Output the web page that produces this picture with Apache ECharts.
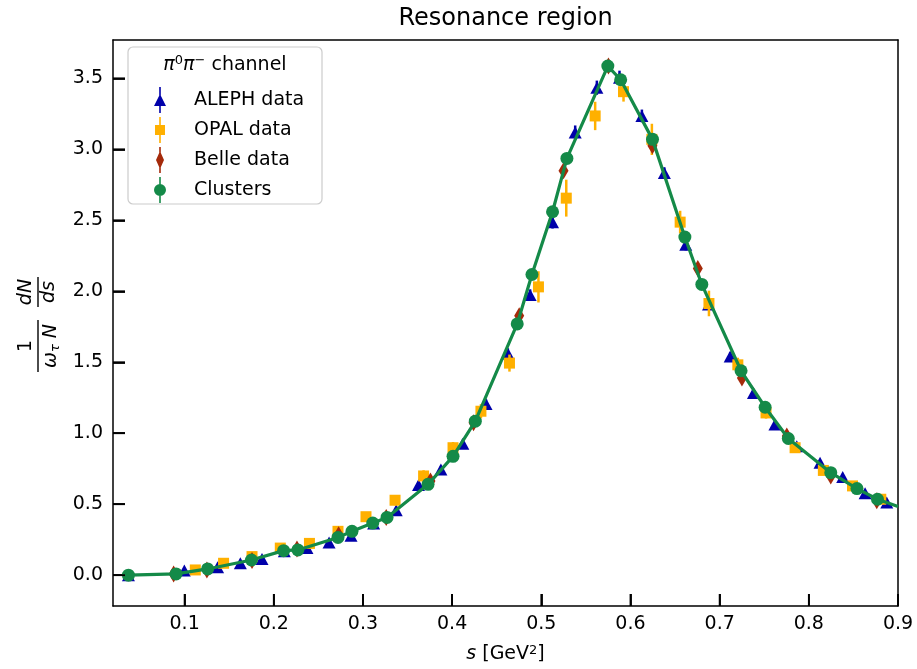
<!DOCTYPE html>
<html>
<head>
<meta charset="utf-8">
<script src="https://cdn.jsdelivr.net/npm/echarts@6/dist/echarts.min.js"></script>
<style>
  html, body { margin: 0; padding: 0; background: #fff; }
  #chart { width: 917px; height: 669px; }
</style>
</head>
<body>
<div id="chart"></div>
<script>
const FONT = 'DejaVu Sans'

// ALEPH
const alephS = [0.037, 0.0997, 0.137, 0.1625, 0.1868, 0.2118, 0.2372, 0.262, 0.2866, 0.312, 0.3373, 0.3623, 0.3874, 0.412, 0.438, 0.4625, 0.4875, 0.5126, 0.538, 0.5623, 0.5877, 0.6128, 0.638, 0.662, 0.6875, 0.7118, 0.7379, 0.762, 0.7865, 0.8126, 0.838, 0.8631, 0.8874]
const alephV = [0.0, 0.033, 0.056, 0.084, 0.114, 0.168, 0.191, 0.231, 0.278, 0.365, 0.458, 0.636, 0.745, 0.926, 1.206, 1.562, 1.973, 2.487, 3.118, 3.434, 3.504, 3.235, 2.833, 2.328, 1.907, 1.541, 1.283, 1.061, 0.909, 0.792, 0.692, 0.577, 0.512]
const alephErr = [0.005, 0.005, 0.006, 0.007, 0.008, 0.01, 0.01, 0.012, 0.014, 0.017, 0.02, 0.024, 0.026, 0.03, 0.032, 0.036, 0.04, 0.045, 0.05, 0.05, 0.05, 0.045, 0.04, 0.04, 0.035, 0.03, 0.026, 0.022, 0.02, 0.018, 0.016, 0.015, 0.015]

// OPAL
const opalS = [0.112, 0.1437, 0.1756, 0.2073, 0.24, 0.272, 0.3034, 0.336, 0.368, 0.401, 0.4323, 0.4643, 0.4968, 0.528, 0.5604, 0.5922, 0.624, 0.6557, 0.688, 0.7204, 0.752, 0.7846, 0.8163, 0.849, 0.8807]
const opalV = [0.037, 0.084, 0.131, 0.191, 0.224, 0.309, 0.412, 0.528, 0.699, 0.898, 1.155, 1.494, 2.031, 2.656, 3.235, 3.406, 3.07, 2.487, 1.914, 1.482, 1.143, 0.898, 0.738, 0.629, 0.535]
const opalErr = [0.015, 0.015, 0.02, 0.02, 0.02, 0.025, 0.03, 0.035, 0.04, 0.04, 0.05, 0.06, 0.11, 0.13, 0.1, 0.07, 0.11, 0.08, 0.09, 0.05, 0.04, 0.03, 0.03, 0.025, 0.025]

// Belle
const belleS = [0.0877, 0.125, 0.1756, 0.226, 0.2727, 0.3261, 0.3757, 0.424, 0.4752, 0.5249, 0.5753, 0.6246, 0.6755, 0.725, 0.7753, 0.8246, 0.8762]
const belleV = [0.009, 0.037, 0.103, 0.184, 0.285, 0.407, 0.664, 1.073, 1.828, 2.849, 3.586, 3.025, 2.16, 1.389, 0.98, 0.699, 0.524]
const belleErr = [0.01, 0.01, 0.01, 0.01, 0.015, 0.015, 0.02, 0.025, 0.03, 0.04, 0.04, 0.04, 0.035, 0.03, 0.02, 0.02, 0.02]

// Clusters
const clusterS = [0.037, 0.0904, 0.1258, 0.175, 0.211, 0.227, 0.272, 0.2877, 0.311, 0.327, 0.373, 0.401, 0.426, 0.473, 0.4895, 0.5126, 0.5287, 0.5746, 0.589, 0.6247, 0.661, 0.680, 0.724, 0.751, 0.777, 0.8246, 0.854, 0.877]
const clusterV = [0.0, 0.009, 0.044, 0.107, 0.173, 0.178, 0.266, 0.309, 0.367, 0.407, 0.64, 0.837, 1.085, 1.77, 2.118, 2.56, 2.936, 3.586, 3.49, 3.07, 2.382, 2.048, 1.44, 1.183, 0.963, 0.722, 0.61, 0.535]
const clusterErr = [0.005, 0.005, 0.006, 0.008, 0.01, 0.01, 0.012, 0.012, 0.014, 0.015, 0.02, 0.02, 0.025, 0.03, 0.03, 0.035, 0.035, 0.04, 0.04, 0.035, 0.03, 0.03, 0.025, 0.02, 0.02, 0.015, 0.015, 0.015]

// green curve: cluster points, running on to the right frame
const curveEndS = 0.9
const curveEndV = 0.484

const xTicks = [0.1, 0.2, 0.3, 0.4, 0.5, 0.6, 0.7, 0.8, 0.9]
const yTicks = [0.0, 0.5, 1.0, 1.5, 2.0, 2.5, 3.0, 3.5]

const X_MIN = 0.0197
const X_MAX = 0.9
const Y_MIN = -0.217
const Y_MAX = 3.77

const BLUE = '#0000aa'
const ORANGE = '#ffb000'
const RED = '#a52a0a'
const GREEN = '#148a48'

const pairs = (s, v) => s.map((x, i) => [x, v[i]])

const errorBars = (name, s, v, e, color, z) => ({
  type: 'custom',
  name,
  z,
  silent: true,
  clip: true,
  data: s.map((x, i) => [x, v[i] - e[i], v[i] + e[i]]),
  encode: { x: 0, y: [1, 2] },
  renderItem: (params, api) => {
    const lo = api.coord([api.value(0), api.value(1)])
    const hi = api.coord([api.value(0), api.value(2)])
    return {
      type: 'line',
      shape: { x1: lo[0], y1: lo[1], x2: hi[0], y2: hi[1] },
      style: { stroke: color, lineWidth: 2.5 }
    }
  }
})

const markers = (name, s, v, symbol, size, color, z) => ({
  type: 'scatter',
  name,
  z,
  symbol,
  symbolSize: size,
  itemStyle: { color, opacity: 1 },
  data: pairs(s, v)
})

// inward ticks, placed by the axis scale; dx/dy is the tick direction
const tickMarks = (name, points, dx, dy) => ({
  type: 'custom',
  name,
  z: 12,
  silent: true,
  clip: false,
  data: points,
  encode: { x: 0, y: 1 },
  renderItem: (params, api) => {
    const p = api.coord([api.value(0), api.value(1)])
    return {
      type: 'line',
      shape: { x1: p[0], y1: p[1], x2: p[0] + dx * 12, y2: p[1] + dy * 12 },
      style: { stroke: '#000', lineWidth: 1.8 }
    }
  }
})

const bar = 'M5.2,0h1.6v26h-1.6Z '
const legendIcons = {
  aleph: 'path://' + bar + 'M0,19L6,7L12,19Z',
  opal: 'path://' + bar + 'M1,8h10v10h-10Z',
  belle: 'path://' + bar + 'M6,4L10,13L6,22L2,13Z',
  clusters: 'path://' + bar + 'M0,13a6,6 0 1,1 12,0a6,6 0 1,1 -12,0Z'
}

const frameLine = { show: true, onZero: false, lineStyle: { color: '#000', width: 1.5 } }

const tickStyle = (values) => ({
  show: true, inside: true, length: 12, lineStyle: { color: '#000', width: 1.8 }, customValues: values
})

const labelStyle = (values, margin) => ({
  customValues: values, showMaxLabel: true, showMinLabel: true,
  formatter: v => v.toFixed(1), fontSize: 19, color: '#000', fontFamily: FONT, margin
})

// top / right spines only
const spine = (position, min, max) => ({
  type: 'value', position, min, max,
  axisLine: frameLine,
  axisTick: { show: false },
  axisLabel: { show: false },
  splitLine: { show: false }
})

const chart = echarts.init(document.getElementById('chart'), null, { renderer: 'canvas' })

const option = {
  backgroundColor: '#fff',
  animation: false,
  textStyle: { fontFamily: FONT },
  grid: { left: 113, top: 40, right: 19, bottom: 60 },
  xAxis: [
    {
      type: 'value',
      position: 'bottom',
      min: X_MIN,
      max: X_MAX,
      axisLine: frameLine,
      splitLine: { show: false },
      axisTick: tickStyle(xTicks),
      axisLabel: labelStyle(xTicks, 9),
      name: '{it|s} [GeV{sup|2}]',
      nameLocation: 'middle',
      nameGap: 38,
      nameTextStyle: {
        fontSize: 19, color: '#000', fontFamily: FONT,
        rich: {
          it: { fontSize: 19, fontStyle: 'italic', fontFamily: FONT, color: '#000' },
          sup: { fontSize: 13, fontFamily: FONT, color: '#000', verticalAlign: 'top', padding: [0, 0, 8, 0] }
        }
      }
    },
    spine('top', X_MIN, X_MAX)
  ],
  yAxis: [
    {
      type: 'value',
      position: 'left',
      min: Y_MIN,
      max: Y_MAX,
      axisLine: frameLine,
      splitLine: { show: false },
      axisTick: tickStyle(yTicks),
      axisLabel: labelStyle(yTicks, 10)
    },
    spine('right', Y_MIN, Y_MAX)
  ],
  legend: {
    orient: 'vertical',
    left: 149,
    top: 82,
    z: 21,
    itemWidth: 12,
    itemHeight: 26,
    itemGap: 4,
    symbolKeepAspect: true,
    selectedMode: false,
    textStyle: { fontSize: 19, color: '#000', fontFamily: FONT, padding: [0, 0, 0, 23] },
    data: [
      { name: 'ALEPH data', icon: legendIcons.aleph, itemStyle: { color: BLUE } },
      { name: 'OPAL data', icon: legendIcons.opal, itemStyle: { color: ORANGE } },
      { name: 'Belle data', icon: legendIcons.belle, itemStyle: { color: RED } },
      { name: 'Clusters', icon: legendIcons.clusters, itemStyle: { color: GREEN } }
    ]
  },
  graphic: [
    {
      type: 'text', x: 505.5, y: 19, z: 30,
      style: { text: 'Resonance region', fontSize: 24, fontFamily: FONT, fill: '#000', align: 'center', verticalAlign: 'middle' }
    },
    {
      type: 'rect', z: 20,
      shape: { x: 128, y: 47, width: 194, height: 157, r: 5 },
      style: { fill: 'rgba(255,255,255,0.8)', stroke: '#cccccc', lineWidth: 1.2 }
    },
    {
      type: 'text', x: 225, y: 65, z: 22,
      style: {
        text: '{it|π}{sup|0}{it|π}{sup|−} channel',
        fontSize: 19, fontFamily: FONT, fill: '#000', align: 'center', verticalAlign: 'middle',
        rich: {
          it: { fontSize: 19, fontStyle: 'italic', fontFamily: FONT, fill: '#000' },
          sup: { fontSize: 13, fontFamily: FONT, fill: '#000', verticalAlign: 'top', padding: [0, 0, 8, 0] }
        }
      }
    },
    {
      type: 'group', x: 38, y: 324, rotation: Math.PI / 2, z: 30,
      children: [
        { type: 'line', shape: { x1: -48, y1: 0, x2: 4, y2: 0 }, style: { stroke: '#000', lineWidth: 1.4 } },
        {
          type: 'text', x: -22, y: -2,
          style: { text: '1', fontSize: 19, fontFamily: FONT, fill: '#000', align: 'center', verticalAlign: 'bottom' }
        },
        {
          type: 'text', x: -22, y: 2,
          style: {
            text: '{it|ω}{sub|τ}{it| N}', fontSize: 19, fontFamily: FONT, fill: '#000', align: 'center', verticalAlign: 'top',
            rich: {
              it: { fontSize: 19, fontStyle: 'italic', fontFamily: FONT, fill: '#000', lineHeight: 22 },
              sub: { fontSize: 13, fontStyle: 'italic', fontFamily: FONT, fill: '#000', verticalAlign: 'bottom', padding: [6, 0, 0, 0] }
            }
          }
        },
        { type: 'line', shape: { x1: 17, y1: 0, x2: 47, y2: 0 }, style: { stroke: '#000', lineWidth: 1.4 } },
        {
          type: 'text', x: 32, y: -2,
          style: { text: 'dN', fontSize: 19, fontStyle: 'italic', fontFamily: FONT, fill: '#000', align: 'center', verticalAlign: 'bottom' }
        },
        {
          type: 'text', x: 32, y: 2,
          style: { text: 'ds', fontSize: 19, fontStyle: 'italic', fontFamily: FONT, fill: '#000', align: 'center', verticalAlign: 'top' }
        }
      ]
    }
  ],
  series: [
    errorBars('aleph-err', alephS, alephV, alephErr, BLUE, 2),
    markers('ALEPH data', alephS, alephV, 'triangle', [13, 12], BLUE, 3),
    errorBars('opal-err', opalS, opalV, opalErr, ORANGE, 4),
    markers('OPAL data', opalS, opalV, 'rect', [11, 11], ORANGE, 5),
    errorBars('belle-err', belleS, belleV, belleErr, RED, 6),
    markers('Belle data', belleS, belleV, 'diamond', [10, 17], RED, 7),
    {
      type: 'line',
      name: 'curve',
      z: 8,
      symbol: 'none',
      clip: true,
      lineStyle: { color: GREEN, width: 3.2 },
      data: pairs(clusterS, clusterV).concat([[curveEndS, curveEndV]])
    },
    errorBars('cluster-err', clusterS, clusterV, clusterErr, GREEN, 9),
    markers('Clusters', clusterS, clusterV, 'circle', 13, GREEN, 10),
    tickMarks('x-ticks', xTicks.map(v => [v, Y_MIN]), 0, -1),
    tickMarks('y-ticks', yTicks.map(v => [X_MIN, v]), 1, 0)
  ]
}

chart.setOption(option)
</script>
</body>
</html>
